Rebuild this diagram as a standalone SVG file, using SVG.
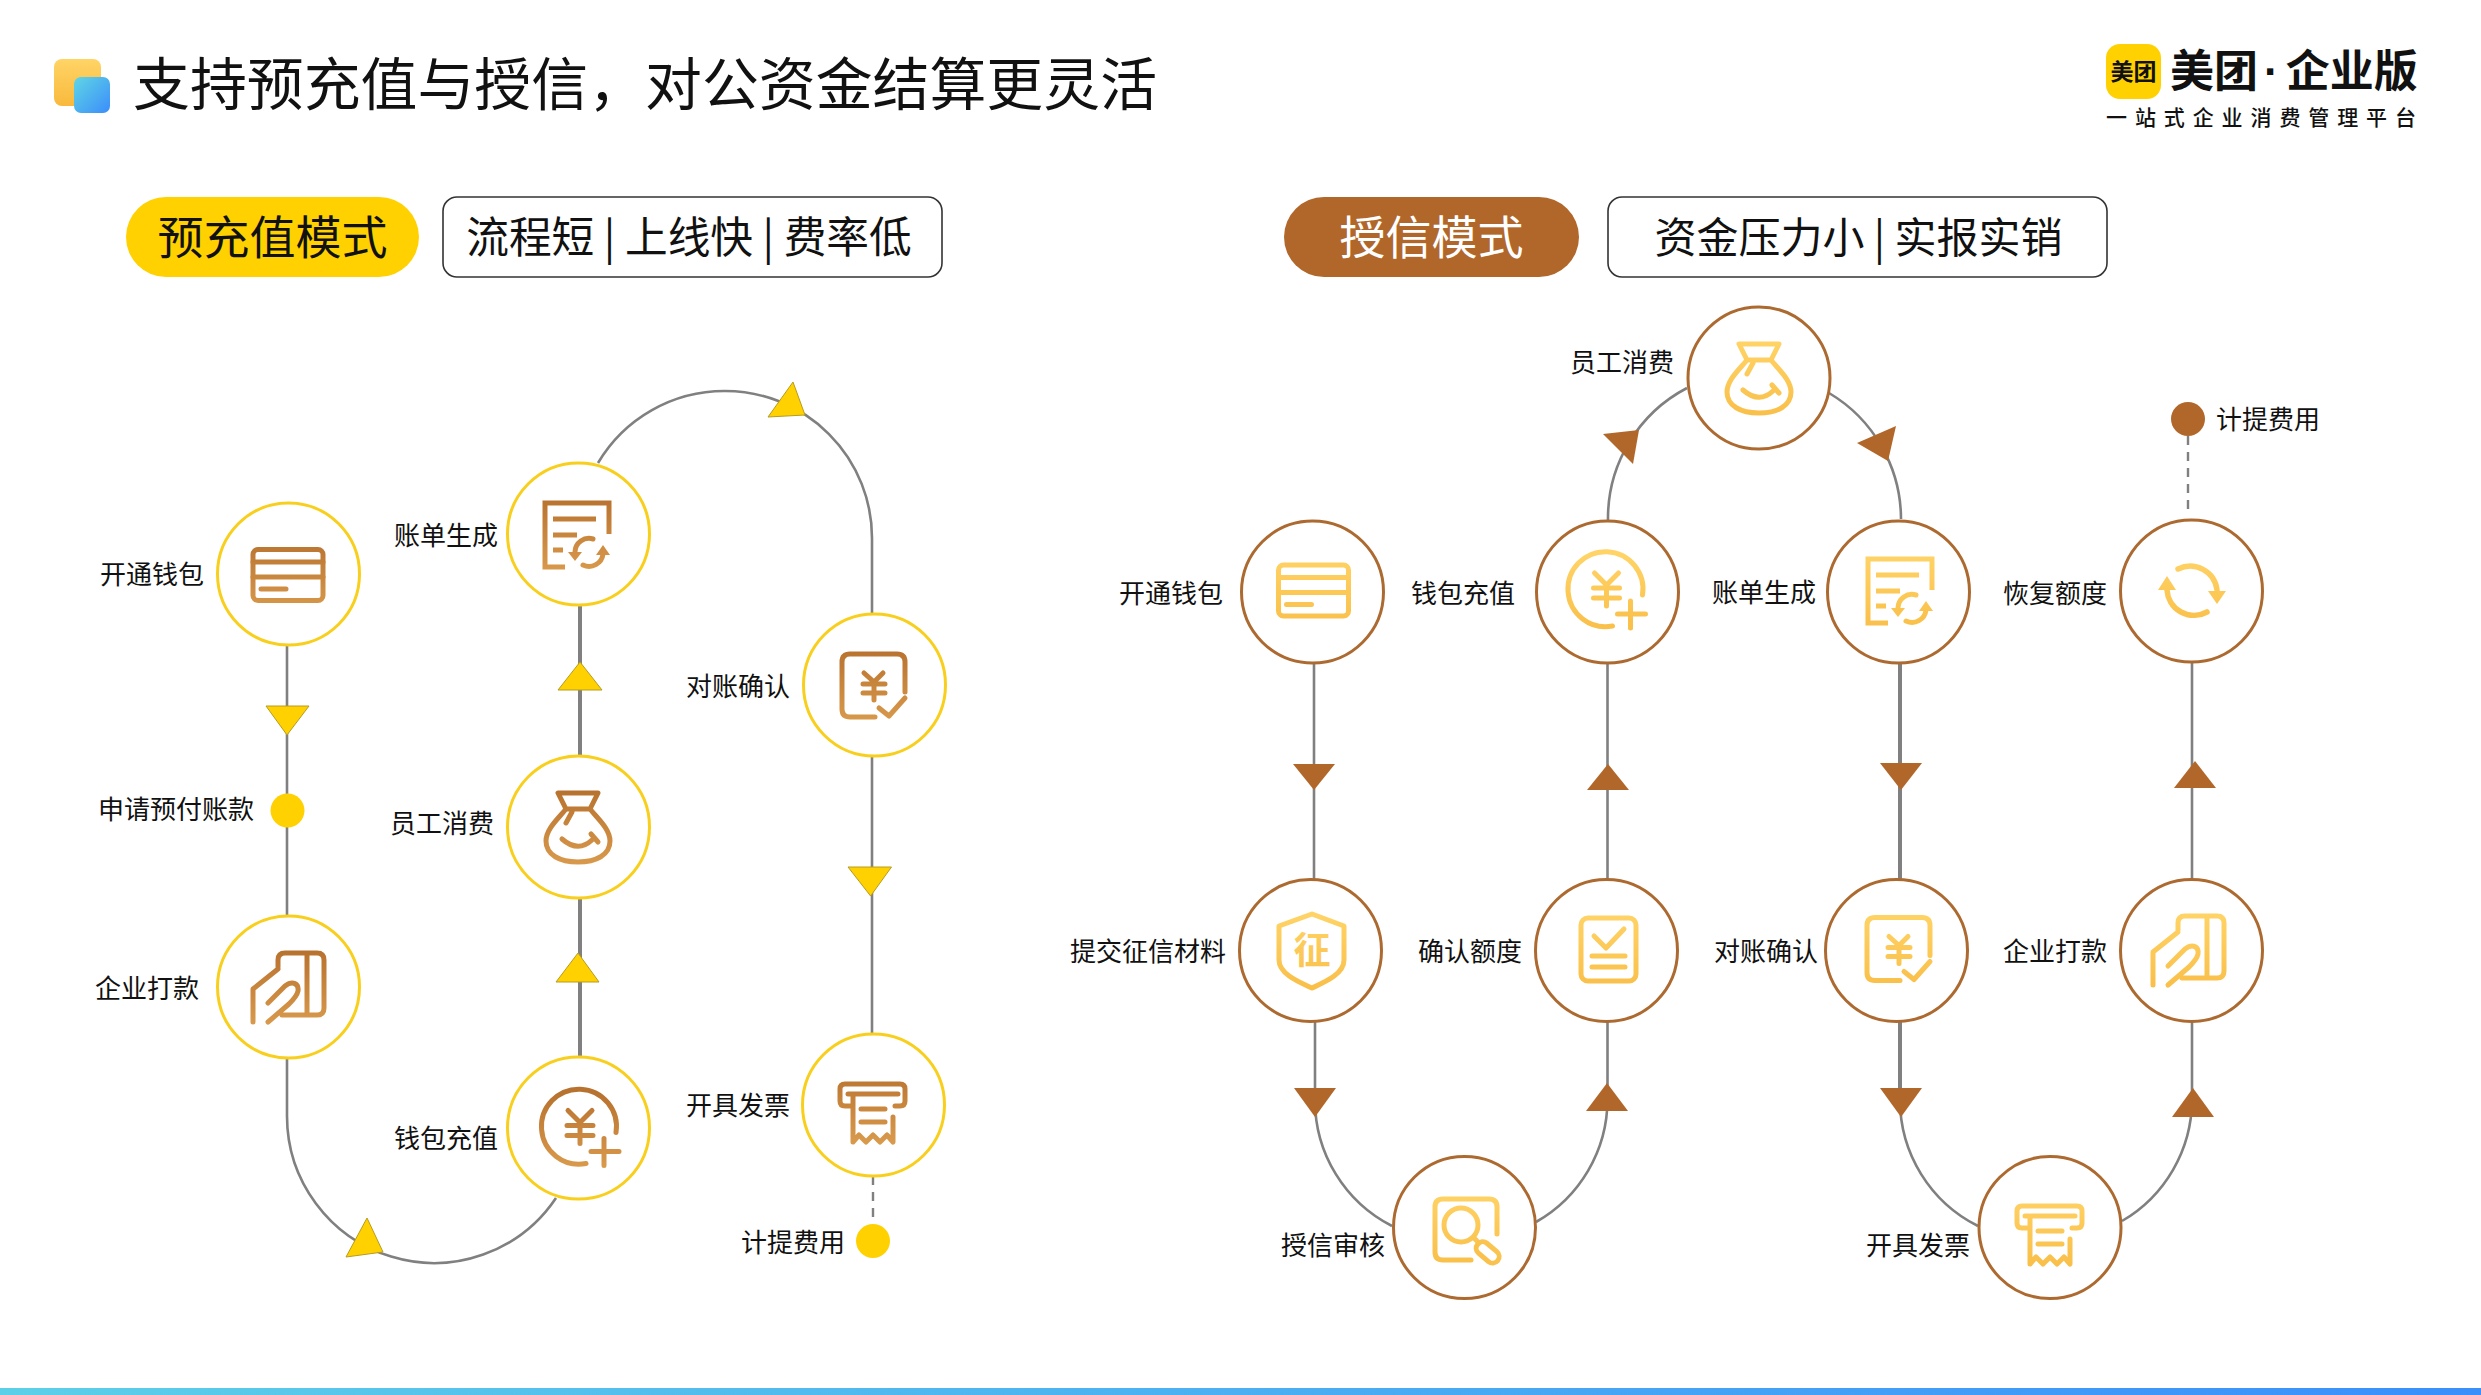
<svg xmlns="http://www.w3.org/2000/svg" width="2481" height="1395" viewBox="0 0 2481 1395">
<style>
text{font-family:"Noto Sans CJK SC","Noto Sans",sans-serif;fill:#111}
.lb{font-size:26px}
.e{text-anchor:end}
.ln{fill:none;stroke:#808080;stroke-width:2.6}
.lt{fill:none;stroke:#808080;stroke-width:4}
.ds{fill:none;stroke:#808080;stroke-width:2.4;stroke-dasharray:9 7}
.ty{fill:#ffd100;stroke:#b79c1c;stroke-width:1}
.tb{fill:#b1672a}
.cy{fill:#fff;stroke:#f9cf1e;stroke-width:3}
.cb{fill:#fff;stroke:#ad6a30;stroke-width:3}
.ib{stroke:url(#gb);fill:none;--g:url(#gb)}
.iy{stroke:url(#gy);fill:none;--g:url(#gy)}
.f{fill:var(--g);stroke:none}
.s{stroke-width:5;stroke-linecap:round;stroke-linejoin:round}
.m{stroke-width:5;stroke-linecap:butt;stroke-linejoin:miter}
.h1{font-size:56.9px}
.tag{font-size:46px}
.sub{font-size:42.7px}
.sub2{font-size:42px}
</style>
<defs>
<linearGradient id="gb" gradientUnits="userSpaceOnUse" x1="0" y1="-36" x2="0" y2="38"><stop offset="0" stop-color="#b8722f"/><stop offset="1" stop-color="#d99a4c"/></linearGradient>
<linearGradient id="gy" gradientUnits="userSpaceOnUse" x1="0" y1="-36" x2="0" y2="38"><stop offset="0" stop-color="#ffd366"/><stop offset="1" stop-color="#f9bf49"/></linearGradient>
<linearGradient id="ya" x1="0" y1="0" x2="0" y2="1"><stop offset="0" stop-color="#ffd466"/><stop offset="1" stop-color="#f8b93c"/></linearGradient>
<linearGradient id="bl" x1="0" y1="0" x2="1" y2="1"><stop offset="0" stop-color="#5fd6e4"/><stop offset="1" stop-color="#3b8dfb"/></linearGradient>
<linearGradient id="bar" x1="0" y1="0" x2="1" y2="0"><stop offset="0" stop-color="#5ccfe8"/><stop offset="1" stop-color="#3a8ffb"/></linearGradient>
<g id="card" class="s"><rect x="-35" y="-24.5" width="70" height="51" rx="5"/><path d="M-35-12H35M-35 3H35M-27 15H-2"/></g>
<g id="bill"><path class="m" d="M31 0V-31H-33V33H-13M-25-15H18M-25 1H-1M-25 16H-15"/><path class="s" d="M15 5A14 14 0 0 0-3 18M5 31A14 14 0 0 0 25 20"/><path class="f" d="M-10 18H4L-3 27ZM18 21H32L25 11Z"/></g>
<g id="bag" class="s"><path d="M-20-34H20L12-18H-12ZM-12-18C-20-8-32 2-32 14C-32 28-18 35 0 35C18 35 32 28 32 14C32 2 20-8 12-18M-6-15L-12-4M-16 12Q0 26 14 13M13 7L20 15"/></g>
<g id="yenp" class="s"><path d="M5 34A37.500 37.500 0 1 1 35 3M-13-19L-1-7L11-19M-14-4H12M-14 6H12M-1-7V14M10 22H38M23 9V36"/></g>
<g id="yenc" class="s"><path d="M31 7V-23Q31-31 23-31H-24Q-32-31-32-23V24Q-32 32-24 32H1M-10-12L0-3L9-12M-11-1H11M-11 8H11M0-3V15M5 23L15 31L31 13"/></g>
<g id="hand" class="s"><path d="M-13-20V-27Q-13-34-6-34H26Q33-34 33-27V21Q33 28 26 28H-9M16-34V28M-38 35V2L-13-18M-23 16L-6-1C2-7 8-3 7 4C6 9 2 13-2 17L-23 35"/></g>
<g id="rcpt" class="s"><path d="M-22 1H-28Q-33 1-33-4V-16Q-33-21-28-21H27Q32-21 32-16V-4Q32 1 27 1H22M-25-11H25M-20-11V37L-14 30L-7 37L0 30L7 37L14 30L20 37V12M-12 4H12M-12 17H12"/></g>
<g id="shield" class="s"><path d="M2-36L34-24V10C34 24 15 32 2 38C-11 32-31 24-31 10V-24Z"/><text class="f" x="2" y="14" text-anchor="middle" font-size="37" font-weight="700" style="stroke:none;fill:var(--g)">征</text></g>
<g id="chk" class="s"><rect x="-25" y="-32" width="55" height="63" rx="7"/><path d="M-12-14L0-2L18-21M-14 6H19M-14 17H19"/></g>
<g id="srch" class="s"><path d="M33 7V-20Q33-28 25-28H-21Q-29-28-29-20V25Q-29 33-21 33H7"/><circle cx="-3" cy="-2" r="17"/><path d="M10 11L15 16"/><rect x="11" y="19" width="26" height="13" rx="6.500" transform="rotate(40 24 25)"/></g>
<g id="rfsh"><path class="s" style="stroke-width:5.500" d="M-13-22A27 27 0 0 1 26-1M16 21A27 27 0 0 1-24-1"/><path class="f" d="M17 0H35L26 13ZM-33-1H-15L-24-15Z"/></g>
</defs>
<rect width="2481" height="1395" fill="#fff"/>
<rect x="0" y="1388" width="2481" height="7" fill="url(#bar)"/>
<g id="title">
<rect x="54" y="59" width="47" height="47" rx="8" fill="url(#ya)"/>
<rect x="74" y="77" width="36" height="36" rx="7" fill="url(#bl)"/>
<text class="h1" x="133" y="105">支持预充值与授信，对公资金结算更灵活</text>
</g>
<g id="logo">
<rect x="2106" y="44" width="55" height="55" rx="14" fill="#ffd100"/>
<text x="2133.500" y="80" text-anchor="middle" font-size="23" font-weight="700">美团</text>
<text x="2170" y="87" font-size="44" font-weight="700" style="font-family:'Liberation Sans','Noto Sans CJK SC',sans-serif">美团<tspan dx="6">·</tspan><tspan dx="7">企业版</tspan></text>
<text x="2106" y="125" font-size="21" font-weight="500" letter-spacing="7.900">一站式企业消费管理平台</text>
</g>
<g id="mode-prepaid">
<rect x="126" y="197" width="293" height="80" rx="40" fill="#ffd100"/>
<text class="tag" x="272.500" y="254" text-anchor="middle">预充值模式</text>
</g>
<g id="desc-prepaid">
<rect x="443" y="197" width="499" height="80" rx="14" fill="#fff" stroke="#333" stroke-width="1.600"/>
<text class="sub" x="689" y="253" text-anchor="middle">流程短 | 上线快 | 费率低</text>
</g>
<g id="mode-credit">
<rect x="1284" y="197" width="295" height="80" rx="40" fill="#b1672a"/>
<text class="tag" x="1431.500" y="254" text-anchor="middle" style="fill:#fff">授信模式</text>
</g>
<g id="desc-credit">
<rect x="1608" y="197" width="499" height="80" rx="14" fill="#fff" stroke="#333" stroke-width="1.600"/>
<text class="sub2" x="1858.500" y="253" text-anchor="middle">资金压力小 | 实报实销</text>
</g>
<g id="connectors">
<path class="ln" d="M287 645V916M287 1058V1116A147 147 0 0 0 556 1198"/>
<path class="lt" d="M580 605V756M580 898V1057"/>
<path class="ln" d="M598 463A147 147 0 0 1 725 391A147 147 0 0 1 872 538V614M872 756V1034"/>
<path class="ds" d="M873 1176V1224"/>
<polygon class="ty" points="266,706 309,706 287,735"/>
<polygon class="ty" points="580,662 558,690 602,690"/>
<polygon class="ty" points="578,953 556,982 599,982"/>
<polygon class="ty" points="793,382 768,417 805,415"/>
<polygon class="ty" points="848,867 891.500,867 870.600,896"/>
<polygon class="ty" points="367,1218 346,1257 383,1252"/>

<path class="ln" d="M1314 663V879M1315 1021V1100A141 141 0 0 0 1392 1226"/>
<path class="ln" d="M1607.500 663V879M1607.500 1021V1100A141 141 0 0 1 1536 1222"/>
<path class="ln" d="M1608 520A147 147 0 0 1 1687 388M1829 393A147 147 0 0 1 1901 519"/>
<path class="lt" d="M1900 663V879M1900 1021V1100"/>
<path class="ln" d="M1900 1100A141 141 0 0 0 1978 1226M2192 663V879M2192 1021V1100A141 141 0 0 1 2122 1221"/>
<path class="ds" d="M2188 436V512"/>
<polygon class="tb" points="1293,764 1335,764 1314,790"/>
<polygon class="tb" points="1608,764 1587,790 1629,790"/>
<polygon class="tb" points="1880,763 1922,763 1901,790"/>
<polygon class="tb" points="2195,761 2174,788 2216,788"/>
<polygon class="tb" points="1294,1088 1336,1088 1315,1117"/>
<polygon class="tb" points="1607,1083 1586,1111 1628,1111"/>
<polygon class="tb" points="1880,1088 1922,1088 1901,1117"/>
<polygon class="tb" points="2193,1088 2172,1117 2214,1117"/>
<polygon class="tb" points="1603,434 1639,430 1633,464"/>
<polygon class="tb" points="1857,443 1896,426 1888,461"/>
</g>
<g id="p-open"><circle class="cy" cx="288.500" cy="574" r="71"/><use href="#card" x="288" y="574" class="ib"/><text class="lb e" x="204" y="584">开通钱包</text></g>
<g id="p-apply"><circle cx="287.500" cy="810.500" r="17" fill="#ffd100"/><text class="lb e" x="254" y="819">申请预付账款</text></g>
<g id="p-pay"><circle class="cy" cx="288.500" cy="987" r="71"/><use href="#hand" x="291" y="987" class="ib"/><text class="lb e" x="199" y="998">企业打款</text></g>
<g id="p-recharge"><circle class="cy" cx="578.500" cy="1128" r="71"/><use href="#yenp" x="581" y="1129.500" class="ib"/><text class="lb e" x="498" y="1148">钱包充值</text></g>
<g id="p-consume"><circle class="cy" cx="578.500" cy="827" r="71"/><use href="#bag" x="578" y="827" class="ib"/><text class="lb e" x="494" y="833">员工消费</text></g>
<g id="p-bill"><circle class="cy" cx="578.500" cy="534" r="71"/><use href="#bill" x="578" y="534" class="ib"/><text class="lb e" x="498" y="545">账单生成</text></g>
<g id="p-check"><circle class="cy" cx="874.500" cy="685" r="71"/><use href="#yenc" x="874" y="685" class="ib"/><text class="lb e" x="790" y="696">对账确认</text></g>
<g id="p-invoice"><circle class="cy" cx="873.500" cy="1105" r="71"/><use href="#rcpt" x="873" y="1105" class="ib"/><text class="lb e" x="790" y="1115">开具发票</text></g>
<g id="p-accrue"><circle cx="873" cy="1241" r="17" fill="#ffd100"/><text class="lb e" x="845" y="1252">计提费用</text></g>

<g id="c-open"><circle class="cb" cx="1312.500" cy="592" r="71"/><use href="#card" x="1313.500" y="589.500" class="iy"/><text class="lb e" x="1223" y="603">开通钱包</text></g>
<g id="c-material"><circle class="cb" cx="1310.500" cy="950.500" r="71"/><use href="#shield" x="1310" y="950" class="iy"/><text class="lb e" x="1226" y="961">提交征信材料</text></g>
<g id="c-audit"><circle class="cb" cx="1464.500" cy="1227.500" r="71"/><use href="#srch" x="1464" y="1227" class="iy"/><text class="lb e" x="1385" y="1255">授信审核</text></g>
<g id="c-limit"><circle class="cb" cx="1606.500" cy="950.500" r="71"/><use href="#chk" x="1606" y="950" class="iy"/><text class="lb e" x="1522" y="961">确认额度</text></g>
<g id="c-recharge"><circle class="cb" cx="1607.500" cy="592" r="71"/><use href="#yenp" x="1607.500" y="592" class="iy"/><text class="lb e" x="1515" y="603">钱包充值</text></g>
<g id="c-consume"><circle class="cb" cx="1759" cy="378" r="71"/><use href="#bag" x="1759" y="378" class="iy"/><text class="lb e" x="1674" y="372">员工消费</text></g>
<g id="c-bill"><circle class="cb" cx="1898.500" cy="592" r="71"/><use href="#bill" x="1901" y="590" class="iy"/><text class="lb e" x="1816" y="602">账单生成</text></g>
<g id="c-check"><circle class="cb" cx="1896.500" cy="950.500" r="71"/><use href="#yenc" x="1899" y="948.500" class="iy"/><text class="lb e" x="1818" y="961">对账确认</text></g>
<g id="c-invoice"><circle class="cb" cx="2050" cy="1227.500" r="71"/><use href="#rcpt" x="2050" y="1227" class="iy"/><text class="lb e" x="1970" y="1255">开具发票</text></g>
<g id="c-pay"><circle class="cb" cx="2191.500" cy="950.500" r="71"/><use href="#hand" x="2191" y="950" class="iy"/><text class="lb e" x="2107" y="961">企业打款</text></g>
<g id="c-restore"><circle class="cb" cx="2191.500" cy="591" r="71"/><use href="#rfsh" x="2191" y="591" class="iy"/><text class="lb e" x="2107" y="603">恢复额度</text></g>
<g id="c-accrue"><circle cx="2188" cy="419" r="17" fill="#b1672a"/><text class="lb" x="2216" y="429">计提费用</text></g>
</svg>
